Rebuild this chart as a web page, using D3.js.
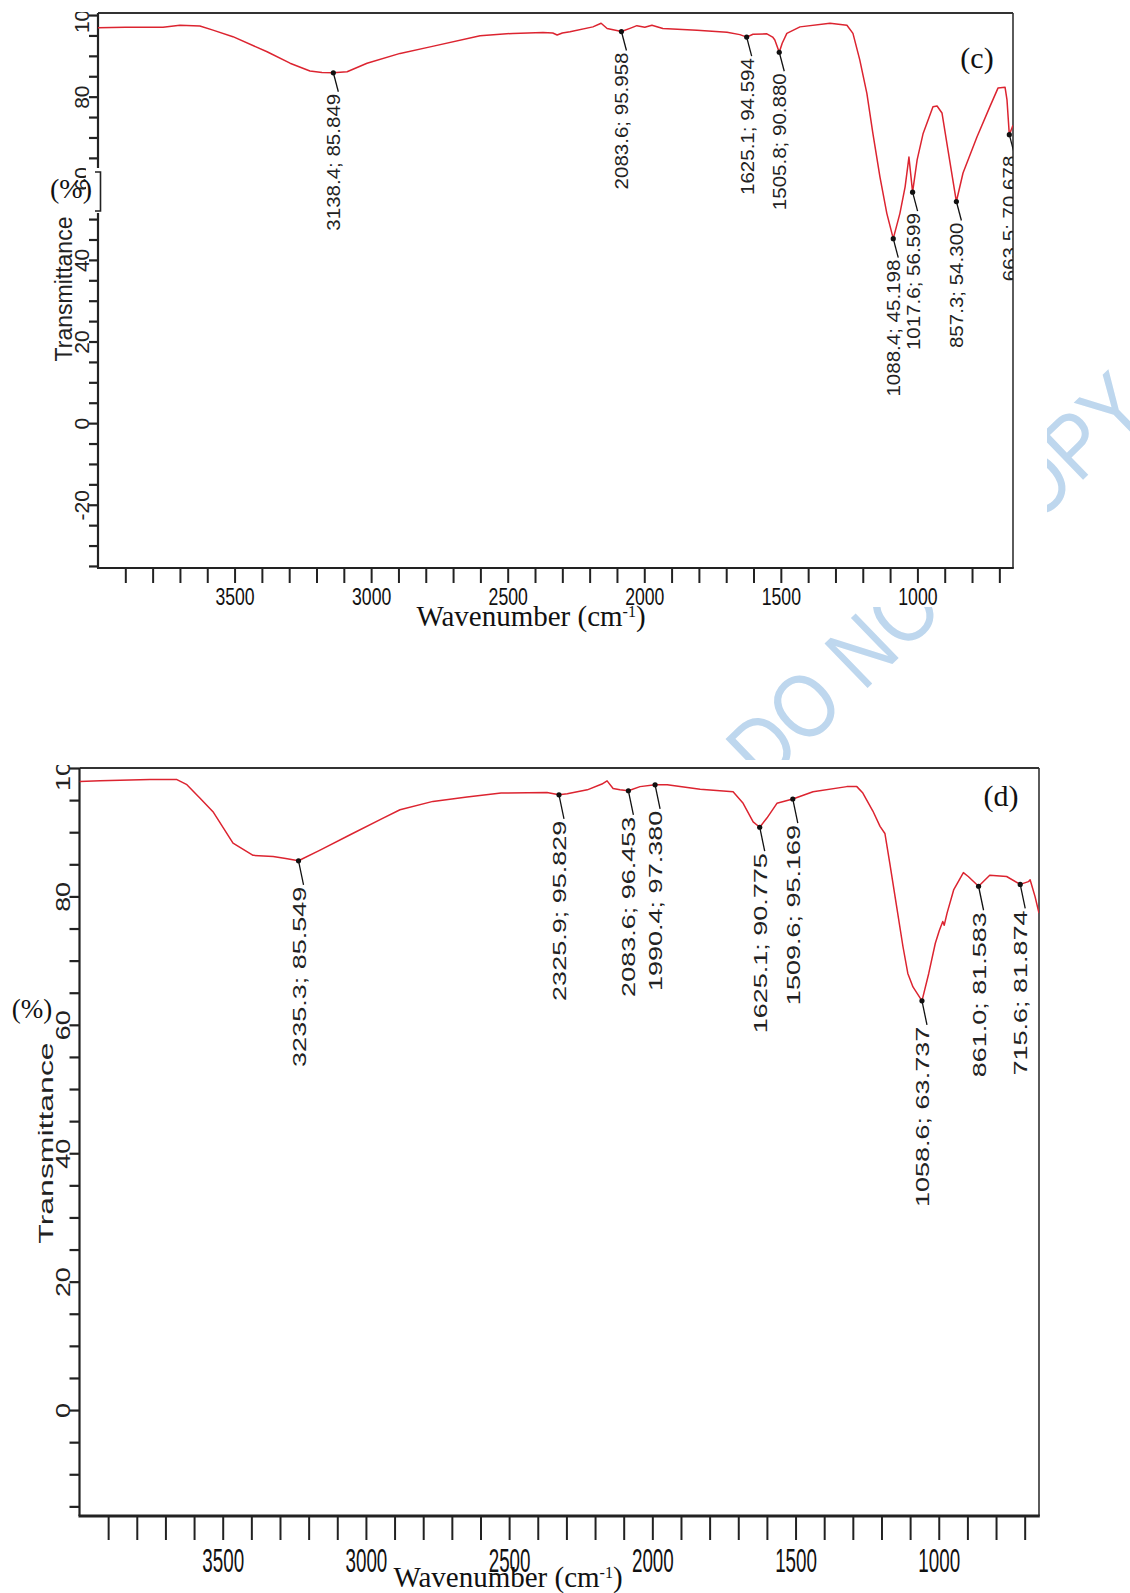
<!DOCTYPE html>
<html>
<head>
<meta charset="utf-8">
<script src="https://cdn.jsdelivr.net/npm/d3@7"></script>
<style>
  body { margin: 0; background: #fff; }
  svg { display: block; }
</style>
</head>
<body>
<div id="chart"></div>
<script>
// FTIR spectrum (c)
const cWave = [4000, 3900, 3762, 3700, 3627, 3579, 3506, 3381, 3297, 3224, 3180, 3138.4, 3088, 3015, 2894, 2784, 2601, 2481, 2371, 2335, 2319, 2300, 2272, 2188, 2158, 2136, 2083.6, 2050, 2027, 1998, 1972, 1932, 1807, 1697, 1650, 1625.1, 1602, 1551, 1530, 1522, 1505.8, 1495, 1478, 1430, 1320, 1258, 1236, 1211, 1185, 1163, 1137, 1112, 1088.4, 1064, 1045, 1031, 1017.6, 1001, 979, 943, 928, 910, 888, 857.3, 833, 782, 735, 705, 679, 672, 663.5, 650];
const cTrans = [96.9, 97.0, 97.0, 97.5, 97.3, 96.3, 94.7, 91.0, 88.2, 86.3, 85.9, 85.849, 86.1, 88.2, 90.6, 92.2, 94.9, 95.5, 95.7, 95.6, 95.1, 95.6, 95.9, 97.1, 98.0, 96.7, 95.958, 96.8, 97.4, 97.0, 97.5, 96.7, 96.3, 95.8, 95.2, 94.594, 95.3, 95.4, 94.6, 93.9, 90.880, 93.1, 95.5, 97.1, 98.0, 97.5, 95.5, 89.0, 80.8, 71.0, 60.3, 51.4, 45.198, 51.4, 57.9, 65.2, 56.599, 64.5, 71.0, 77.5, 77.7, 76.0, 66.9, 54.300, 61.3, 70.1, 77.5, 82.1, 82.3, 79.2, 70.678, 73.0];
const cPeakWave = [3138.4, 2083.6, 1625.1, 1505.8, 1088.4, 1017.6, 857.3, 663.5];
const cPeakTrans = [85.849, 95.958, 94.594, 90.880, 45.198, 56.599, 54.300, 70.678];

// FTIR spectrum (d)
const dWave = [4000, 3928, 3754, 3660, 3625, 3579, 3534, 3464, 3394, 3324, 3280, 3235.3, 3160, 3055, 2940, 2881, 2766, 2647, 2528, 2368, 2325.9, 2297, 2227, 2176, 2158, 2137, 2113, 2083.6, 2043, 1990.4, 1948, 1833, 1718, 1683, 1648, 1625.1, 1600, 1565, 1509.6, 1439, 1321, 1286, 1265, 1230, 1205, 1188, 1171, 1147, 1125, 1108, 1090, 1058.6, 1035, 1012, 998, 986, 981, 971, 948, 914, 897, 861.0, 822, 763, 715.6, 687, 681, 664, 650];
const dTrans = [97.9, 98.0, 98.2, 98.2, 97.4, 95.3, 93.2, 88.3, 86.4, 86.2, 85.9, 85.549, 87.2, 89.6, 92.2, 93.5, 94.8, 95.5, 96.1, 96.2, 95.829, 96.0, 96.6, 97.5, 98.0, 96.8, 96.6, 96.453, 97.1, 97.380, 97.4, 96.7, 96.3, 94.5, 91.6, 90.775, 92.2, 94.5, 95.169, 96.3, 97.1, 97.1, 96.1, 93.3, 90.9, 89.8, 85.2, 78.4, 72.2, 68.0, 65.9, 63.737, 68.0, 72.7, 74.7, 76.1, 75.5, 77.4, 81.0, 83.7, 83.1, 81.583, 83.3, 83.1, 81.874, 82.3, 82.6, 80.0, 77.4];
const dPeakWave = [3235.3, 2325.9, 2083.6, 1990.4, 1625.1, 1509.6, 1058.6, 861.0, 715.6];
const dPeakTrans = [85.549, 95.829, 96.453, 97.380, 90.775, 95.169, 63.737, 81.583, 81.874];

const xDomain = [4000, 650];
const xTicks = d3.range(700, 4000, 100);
const xTickLabels = [3500, 3000, 2500, 2000, 1500, 1000];
const yTickLabels = [-20, 0, 20, 40, 60, 80, 100];

const W = 1130, H = 1593;
const SANS = "'Liberation Sans', Arial, sans-serif";
const SERIF = "'Liberation Serif', 'Times New Roman', serif";
const AXIS = "#222";

const svg = d3.select("#chart").append("svg")
  .attr("width", W).attr("height", H);
const defs = svg.append("defs");

// watermark sits behind the two pasted chart images
svg.append("text")
  .attr("transform", "translate(764,788) rotate(-44) scale(0.86,1)")
  .attr("font-family", SANS)
  .attr("font-size", 90)
  .attr("fill", "#bed7ee")
  .text("DO NOT COPY");
svg.append("rect").attr("x", 0).attr("y", 0).attr("width", 1047).attr("height", 607).attr("fill", "#fff");
svg.append("rect").attr("x", 0).attr("y", 760).attr("width", 1047).attr("height", H - 760).attr("fill", "#fff");

const panels = [
  {
    id: "c", wave: cWave, trans: cTrans, pw: cPeakWave, pt: cPeakTrans,
    left: 98, right: 1013, top: 13, bottom: 568, clipTop: 12,
    yDomain: [-35.5, 100.5], yTicks: d3.range(-35, 101, 5),
    xTickLen: 15, yTickLen: 9, bottomWidth: 2,
    xLabelBase: 605, xLabelScale: [0.75, 1],
    yLabelBase: 89, yLabelSize: 21, yLabelStretch: 1.0,
    annStretch: 1.14, leader: 19,
    tag: "(c)", tagX: 977, tagY: 68,
    tTitleX: 72, tTitleY: 289, tTitleSize: 23, tTitleStretch: 1.0,
    pctX: 71, pctY: 198, pctSize: 28,
    wnX: 531, wnY: 626
  },
  {
    id: "d", wave: dWave, trans: dTrans, pw: dPeakWave, pt: dPeakTrans,
    left: 79.5, right: 1039, top: 768, bottom: 1516, clipTop: 765,
    yDomain: [-16.5, 100], yTicks: d3.range(-15, 101, 5),
    xTickLen: 24, yTickLen: 10, bottomWidth: 3,
    xLabelBase: 1572, xLabelScale: [0.8, 1.41],
    yLabelBase: 70, yLabelSize: 21, yLabelStretch: 1.28,
    annStretch: 1.5, leader: 24,
    tag: "(d)", tagX: 1001, tagY: 806,
    tTitleX: 53, tTitleY: 1143, tTitleSize: 19.5, tTitleStretch: 1.64,
    pctX: 32, pctY: 1018, pctSize: 27,
    wnX: 508, wnY: 1587
  }
];

panels.forEach(drawPanel);

function drawPanel(p) {
  const x = d3.scaleLinear().domain(xDomain).range([p.left, p.right]);
  const y = d3.scaleLinear().domain(p.yDomain).range([p.bottom, p.top]);

  defs.append("clipPath").attr("id", "top-" + p.id)
    .append("rect").attr("x", 0).attr("y", p.clipTop).attr("width", W).attr("height", H);
  defs.append("clipPath").attr("id", "plot-" + p.id)
    .append("rect").attr("x", p.left).attr("y", p.top)
    .attr("width", p.right - p.left).attr("height", p.bottom - p.top);

  const g = svg.append("g").attr("clip-path", `url(#top-${p.id})`);

  // bottom axis
  const gx = g.append("g")
    .attr("transform", `translate(0,${p.bottom})`)
    .call(d3.axisBottom(x).tickValues(xTicks).tickSize(p.xTickLen).tickSizeOuter(0)
      .tickFormat(d => xTickLabels.includes(d) ? d : ""));
  gx.select(".domain").remove();
  gx.selectAll(".tick line").attr("stroke", AXIS).attr("stroke-width", 2);
  gx.selectAll(".tick text")
    .attr("y", null).attr("dy", null)
    .attr("fill", "#111")
    .attr("font-family", SANS).attr("font-size", 23.5)
    .attr("transform", `translate(0,${p.xLabelBase - p.bottom}) scale(${p.xLabelScale[0]},${p.xLabelScale[1]})`);

  // left axis
  const gy = g.append("g")
    .attr("transform", `translate(${p.left},0)`)
    .call(d3.axisLeft(y).tickValues(p.yTicks).tickSize(p.yTickLen).tickSizeOuter(0)
      .tickFormat(d => yTickLabels.includes(d) ? d : ""));
  gy.select(".domain").remove();
  gy.selectAll(".tick line").attr("stroke", AXIS).attr("stroke-width", 2.2);
  gy.selectAll(".tick text")
    .attr("x", null).attr("dy", null)
    .attr("fill", "#222")
    .attr("text-anchor", "middle")
    .attr("font-family", SANS).attr("font-size", p.yLabelSize)
    .attr("transform", `translate(${p.yLabelBase - p.left},0) rotate(-90) scale(${p.yLabelStretch},1)`);

  // frame
  g.append("line").attr("x1", p.left).attr("x2", p.right).attr("y1", p.top).attr("y2", p.top)
    .attr("stroke", "#333").attr("stroke-width", 1.8);
  g.append("line").attr("x1", p.right).attr("x2", p.right).attr("y1", p.top).attr("y2", p.bottom)
    .attr("stroke", "#333").attr("stroke-width", 1.6);
  g.append("line").attr("x1", p.left).attr("x2", p.left).attr("y1", p.top).attr("y2", p.bottom)
    .attr("stroke", AXIS).attr("stroke-width", 2.2);
  g.append("line").attr("x1", p.left - 1).attr("x2", p.right + 0.8).attr("y1", p.bottom).attr("y2", p.bottom)
    .attr("stroke", AXIS).attr("stroke-width", p.bottomWidth);

  const plot = g.append("g").attr("clip-path", `url(#plot-${p.id})`);

  // spectrum
  const line = d3.line()
    .x(i => x(p.wave[i]))
    .y(i => y(p.trans[i]));
  plot.append("path")
    .attr("d", line(d3.range(p.wave.length)))
    .attr("fill", "none")
    .attr("stroke", "#dc2430")
    .attr("stroke-width", 1.5)
    .attr("stroke-linejoin", "round");

  // peak annotations
  const ann = plot.selectAll("g.peak")
    .data(d3.range(p.pw.length))
    .join("g").attr("class", "peak");
  ann.append("line")
    .attr("x1", i => x(p.pw[i])).attr("y1", i => y(p.pt[i]))
    .attr("x2", i => x(p.pw[i]) + 5).attr("y2", i => y(p.pt[i]) + p.leader)
    .attr("stroke", "#111").attr("stroke-width", 1.3);
  ann.append("circle")
    .attr("cx", i => x(p.pw[i])).attr("cy", i => y(p.pt[i]))
    .attr("r", 2.6).attr("fill", "#111");
  ann.append("text")
    .attr("transform", i => `translate(${x(p.pw[i]) + 7},${y(p.pt[i]) + p.leader + 2}) rotate(-90) scale(${p.annStretch},1)`)
    .attr("text-anchor", "end")
    .attr("font-family", SANS).attr("font-size", 18)
    .attr("fill", "#222")
    .text(i => `${p.pw[i].toFixed(1)}; ${p.pt[i].toFixed(3)}`);

  // panel tag
  g.append("text")
    .attr("x", p.tagX).attr("y", p.tagY)
    .attr("text-anchor", "middle")
    .attr("font-family", SERIF).attr("font-size", 30)
    .attr("fill", "#111")
    .text(p.tag);

  if (p.id === "c") {
    // pasted patch over the 60 label in the source figure
    g.append("rect").attr("x", 86).attr("y", 168).attr("width", 15).attr("height", 45).attr("fill", "#fff");
    g.append("path").attr("d", "M95,172H100.5V211H95")
      .attr("fill", "none").attr("stroke", "#222").attr("stroke-width", 1.6);
  }

  // axis titles
  g.append("text")
    .attr("transform", `translate(${p.tTitleX},${p.tTitleY}) rotate(-90) scale(${p.tTitleStretch},1)`)
    .attr("text-anchor", "middle")
    .attr("font-family", SANS).attr("font-size", p.tTitleSize)
    .attr("fill", "#222")
    .text("Transmittance");
  g.append("text")
    .attr("x", p.pctX).attr("y", p.pctY)
    .attr("text-anchor", "middle")
    .attr("font-family", SERIF).attr("font-size", p.pctSize)
    .attr("fill", "#111")
    .text("(%)");

  const wn = svg.append("text")
    .attr("x", p.wnX).attr("y", p.wnY)
    .attr("text-anchor", "middle")
    .attr("font-family", SERIF).attr("font-size", 29)
    .attr("fill", "#111");
  wn.append("tspan").text("Wavenumber (cm");
  wn.append("tspan").attr("dy", -9).attr("font-size", 16).text("-1");
  wn.append("tspan").attr("dy", 9).text(")");
}
</script>
</body>
</html>
